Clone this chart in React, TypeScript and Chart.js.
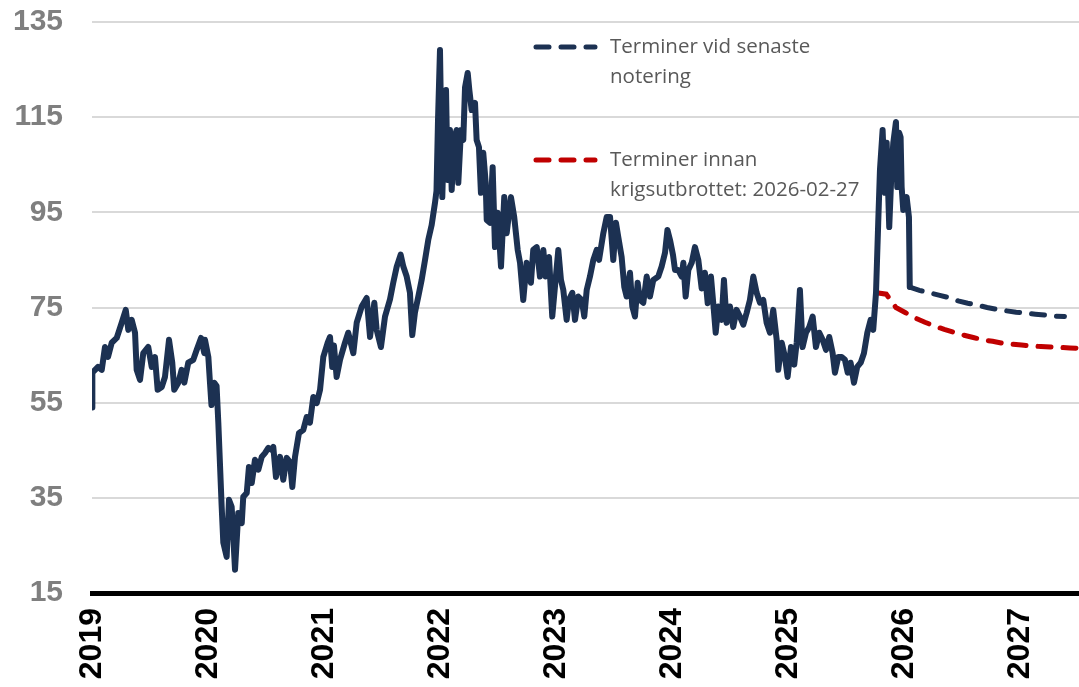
import React, { useEffect, useRef } from "react";
import { Chart, registerables } from "chart.js";

Chart.register(...registerables);

// Historical price: position on the time axis (years) and value
const histX: number[] = [
  2019.000, 2019.003, 2019.052, 2019.084, 2019.112, 2019.138, 2019.170, 2019.213, 2019.256, 2019.291,
  2019.313, 2019.342, 2019.371, 2019.385, 2019.414, 2019.442, 2019.485, 2019.515, 2019.543, 2019.566,
  2019.601, 2019.629, 2019.664, 2019.692, 2019.709, 2019.744, 2019.773, 2019.796, 2019.830, 2019.873,
  2019.903, 2019.940, 2019.968, 2019.974, 2020.003, 2020.017, 2020.030, 2020.054, 2020.074, 2020.089,
  2020.118, 2020.132, 2020.161, 2020.181, 2020.204, 2020.233, 2020.261, 2020.291, 2020.304, 2020.334,
  2020.353, 2020.377, 2020.405, 2020.434, 2020.463, 2020.491, 2020.520, 2020.549, 2020.563, 2020.586,
  2020.621, 2020.649, 2020.678, 2020.707, 2020.727, 2020.750, 2020.784, 2020.822, 2020.851, 2020.879,
  2020.908, 2020.937, 2020.966, 2020.994, 2021.032, 2021.052, 2021.071, 2021.086, 2021.109, 2021.138,
  2021.181, 2021.209, 2021.253, 2021.282, 2021.325, 2021.368, 2021.397, 2021.434, 2021.454, 2021.491,
  2021.526, 2021.569, 2021.597, 2021.627, 2021.661, 2021.684, 2021.713, 2021.741, 2021.761, 2021.784,
  2021.813, 2021.842, 2021.871, 2021.899, 2021.928, 2021.957, 2021.970, 2021.983, 2022.000, 2022.020,
  2022.037, 2022.052, 2022.066, 2022.086, 2022.101, 2022.123, 2022.144, 2022.158, 2022.181, 2022.201,
  2022.216, 2022.239, 2022.253, 2022.273, 2022.302, 2022.316, 2022.336, 2022.353, 2022.373, 2022.394,
  2022.403, 2022.431, 2022.454, 2022.474, 2022.497, 2022.526, 2022.554, 2022.575, 2022.612, 2022.640,
  2022.670, 2022.690, 2022.718, 2022.747, 2022.784, 2022.804, 2022.834, 2022.862, 2022.891, 2022.911,
  2022.940, 2022.968, 2022.991, 2023.020, 2023.043, 2023.063, 2023.092, 2023.112, 2023.141, 2023.164,
  2023.192, 2023.222, 2023.244, 2023.265, 2023.293, 2023.322, 2023.351, 2023.371, 2023.408, 2023.437,
  2023.466, 2023.494, 2023.517, 2023.537, 2023.566, 2023.589, 2023.609, 2023.638, 2023.658, 2023.681,
  2023.704, 2023.724, 2023.753, 2023.782, 2023.810, 2023.839, 2023.882, 2023.911, 2023.940, 2023.961,
  2023.983, 2024.009, 2024.026, 2024.054, 2024.084, 2024.098, 2024.118, 2024.141, 2024.170, 2024.198,
  2024.227, 2024.256, 2024.284, 2024.308, 2024.336, 2024.356, 2024.377, 2024.399, 2024.428, 2024.448,
  2024.471, 2024.500, 2024.528, 2024.557, 2024.586, 2024.615, 2024.644, 2024.672, 2024.701, 2024.730,
  2024.759, 2024.787, 2024.816, 2024.845, 2024.873, 2024.903, 2024.916, 2024.946, 2024.974, 2024.997,
  2025.026, 2025.054, 2025.075, 2025.103, 2025.126, 2025.155, 2025.184, 2025.213, 2025.241, 2025.270,
  2025.299, 2025.328, 2025.356, 2025.385, 2025.405, 2025.434, 2025.463, 2025.491, 2025.515, 2025.540,
  2025.569, 2025.597, 2025.627, 2025.655, 2025.684, 2025.713, 2025.735, 2025.759, 2025.778, 2025.793,
  2025.816, 2025.836, 2025.851, 2025.873, 2025.894, 2025.908, 2025.931, 2025.942, 2025.959, 2025.971,
  2025.980, 2025.994, 2026.004, 2026.023, 2026.043, 2026.050,
];
const histY: number[] = [
  54.0, 61.3, 62.5, 61.9, 66.7, 64.6, 67.6, 68.6, 71.8, 74.5,
  70.3, 72.4, 69.7, 61.9, 59.8, 65.4, 66.7, 62.5, 64.6, 57.7,
  58.3, 60.4, 68.2, 63.4, 57.7, 59.2, 61.9, 59.2, 63.4, 64.0,
  66.1, 68.6, 65.4, 68.2, 64.6, 59.2, 54.5, 59.2, 58.5, 50.8,
  33.1, 25.6, 22.6, 34.6, 33.1, 19.9, 31.8, 29.7, 35.2, 36.0,
  41.5, 38.1, 43.0, 40.9, 43.6, 44.4, 45.5, 45.1, 45.7, 39.4,
  43.6, 38.8, 43.4, 42.5, 37.3, 43.6, 48.6, 49.3, 52.0, 50.8,
  56.2, 54.9, 57.7, 64.6, 67.6, 68.8, 62.5, 67.0, 60.4, 64.0,
  67.6, 69.7, 65.4, 71.8, 75.2, 77.0, 68.8, 76.0, 70.3, 66.7,
  73.1, 76.7, 80.2, 83.6, 86.1, 83.6, 81.5, 78.1, 69.2, 73.9,
  77.3, 80.8, 85.0, 89.2, 92.3, 97.0, 99.5, 114.4, 129.1, 98.2,
  113.8, 120.7, 101.8, 112.3, 99.7, 110.8, 112.3, 101.2, 112.3, 110.2,
  121.3, 124.3, 120.7, 116.5, 118.0, 110.2, 108.7, 99.1, 107.5, 101.2,
  93.4, 92.8, 104.5, 87.7, 94.9, 83.6, 98.2, 90.6, 98.2, 94.0,
  87.1, 84.4, 76.6, 84.4, 80.2, 87.1, 87.7, 81.5, 87.1, 81.5,
  85.6, 73.1, 79.3, 87.1, 80.8, 78.7, 72.4, 76.6, 78.1, 72.4,
  77.3, 76.6, 73.1, 78.7, 81.5, 85.0, 87.1, 85.0, 90.6, 94.0,
  94.0, 85.0, 92.8, 89.8, 85.6, 79.3, 77.3, 82.3, 75.2, 73.1,
  80.2, 76.6, 76.0, 81.5, 77.3, 80.8, 81.5, 83.6, 86.5, 91.3,
  89.2, 86.0, 82.9, 82.9, 81.5, 84.4, 77.3, 82.9, 84.4, 87.7,
  85.0, 79.0, 82.3, 75.9, 81.5, 75.9, 69.7, 75.2, 72.4, 80.8,
  71.8, 75.2, 70.9, 74.5, 73.1, 71.4, 73.9, 76.6, 81.5, 78.1,
  76.0, 76.6, 71.8, 69.7, 74.5, 68.2, 61.9, 67.6, 64.6, 60.4,
  66.7, 63.0, 67.6, 78.7, 66.7, 69.7, 70.9, 73.1, 66.7, 69.7,
  68.2, 66.1, 68.8, 65.4, 61.3, 64.6, 64.6, 64.0, 61.3, 63.4,
  59.2, 62.5, 63.4, 65.4, 69.7, 72.4, 70.3, 78.1, 92.8, 103.9,
  112.3, 99.1, 109.6, 91.9, 104.5, 109.6, 114.0, 100.3, 111.7, 110.8,
  100.3, 95.5, 97.6, 98.2, 94.0, 79.3,
];

// Forward curve at latest quote (monthly contracts)
const fwdLatestStart = 2026.05;
const fwdLatest: number[] = [
  79.3, 78.6, 78.1, 77.6, 77.1, 76.4, 75.9, 75.5, 75.0, 74.6, 74.3, 74.0, 73.8, 73.6, 73.4, 73.2, 73.1,
];

// Forward curve before the war started: 2026-02-27 (monthly contracts)
const fwdPreWarStart = 2025.764;
const fwdPreWar: number[] = [
  78.1, 77.8, 75.0, 73.9, 72.8, 71.9, 71.1, 70.4, 69.8, 69.2, 68.7, 68.2, 67.9, 67.5, 67.3, 67.1,
  66.9, 66.8, 66.7, 66.6, 66.5, 66.4,
];

const yTicks: number[] = [15, 35, 55, 75, 95, 115, 135];
const xYears: number[] = [2019, 2020, 2021, 2022, 2023, 2024, 2025, 2026, 2027];

const legendItems = [
  { lines: ["Terminer vid senaste", "notering"], color: "#1c3152" },
  { lines: ["Terminer innan", "krigsutbrottet: 2026-02-27"], color: "#c00000" },
];

const NAVY = "#1c3152";
const RED = "#c00000";

export default function App() {
  const ref = useRef<HTMLCanvasElement | null>(null);

  useEffect(() => {
    if (!ref.current) return;
    const hist = histX.map((x, i) => ({ x, y: histY[i] }));
    const latest = fwdLatest.map((y, i) => ({ x: fwdLatestStart + i / 12, y }));
    const pre = fwdPreWar.map((y, i) => ({ x: fwdPreWarStart + i / 12, y }));

    const legendPlugin = {
      id: "customLegend",
      afterDraw(chart: any) {
        const ctx = chart.ctx;
        const area = chart.chartArea;
        const baseX = area.left + 441;
        const tops = [area.top + 25, area.top + 138];
        ctx.save();
        legendItems.forEach((item, k) => {
          const y = tops[k];
          ctx.strokeStyle = item.color;
          ctx.lineWidth = 5;
          ctx.lineCap = "round";
          ctx.setLineDash([13, 12]);
          ctx.beginPath();
          ctx.moveTo(baseX + 3, y);
          ctx.lineTo(baseX + 62, y);
          ctx.stroke();
          ctx.setLineDash([]);
          ctx.fillStyle = "#595959";
          ctx.font = "20.5px 'Open Sans', 'Noto Sans', sans-serif";
          ctx.textBaseline = "middle";
          ctx.textAlign = "left";
          item.lines.forEach((t, j) => {
            ctx.fillText(t, baseX + 77, y + j * 30);
          });
        });
        ctx.restore();
      },
    };

    const chart = new Chart(ref.current, {
      type: "line",
      data: {
        datasets: [
          {
            label: "Pris",
            data: hist,
            borderColor: NAVY,
            borderWidth: 6,
            pointRadius: 0,
            tension: 0,
            borderJoinStyle: "round",
            borderCapStyle: "round",
          },
          {
            label: "Terminer vid senaste notering",
            data: latest,
            borderColor: NAVY,
            borderWidth: 5,
            pointRadius: 0,
            borderDash: [13, 12],
            borderCapStyle: "round",
            tension: 0,
          },
          {
            label: "Terminer innan krigsutbrottet: 2026-02-27",
            data: pre,
            borderColor: RED,
            borderWidth: 5,
            pointRadius: 0,
            borderDash: [13, 12],
            borderCapStyle: "round",
            tension: 0,
          },
        ],
      },
      options: {
        animation: false,
        responsive: true,
        maintainAspectRatio: false,
        layout: { padding: { top: 22, right: 0, left: 0, bottom: 0 } },
        plugins: { legend: { display: false }, tooltip: { enabled: false } },
        scales: {
          x: {
            type: "linear",
            min: 2019,
            max: 2027.509,
            afterFit: (s: any) => {
              s.height = 94;
              s.paddingLeft = 0;
              s.paddingRight = 0;
            },
            afterBuildTicks: (s: any) => {
              s.ticks = xYears.map((v) => ({ value: v }));
            },
            ticks: {
              stepSize: 1,
              includeBounds: false,
              minRotation: 90,
              maxRotation: 90,
              autoSkip: false,
              padding: 15,
              color: "#000000",
              font: { family: "'Liberation Sans', Arial, sans-serif", size: 32, weight: "bold" },
              callback: (v: any) => String(v),
            },
            grid: { display: false, drawTicks: false },
            border: { display: true, color: "#000000", width: 5 },
          },
          y: {
            min: 15,
            max: 135,
            afterFit: (s: any) => {
              s.width = 92;
              s.paddingTop = 0;
              s.paddingBottom = 0;
            },
            afterBuildTicks: (s: any) => {
              s.ticks = yTicks.map((v) => ({ value: v }));
            },
            ticks: {
              padding: 29,
              color: "#7f7f7f",
              font: { family: "'Liberation Sans', Arial, sans-serif", size: 30, weight: "bold" },
            },
            grid: { color: "#d9d9d9", lineWidth: 2, drawTicks: false },
            border: { display: false },
          },
        },
      },
      plugins: [legendPlugin],
    } as any);
    return () => chart.destroy();
  }, []);

  return (
    <div style={{ position: "fixed", left: 0, top: 0, width: 1079, height: 687, background: "#fff" }}>
      <canvas ref={ref} />
    </div>
  );
}
